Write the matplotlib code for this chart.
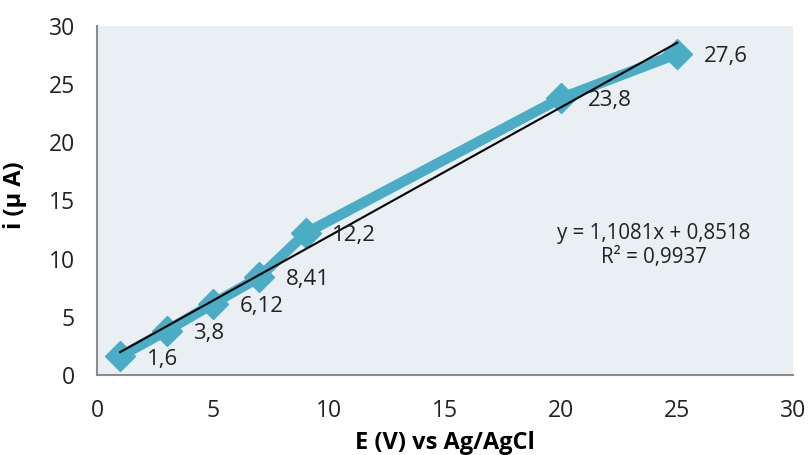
import matplotlib.pyplot as plt

BG_AX   = "#e9eff3"
LINE_C  = "#4bacc6"
SPINE_C = "#8c8c8c"
TEXT_C  = "#222222"

voltage = [1, 3, 5, 7, 9, 20, 25]
current = [1.6, 3.8, 6.12, 8.41, 12.2, 23.8, 27.6]
labels = ["1,6", "3,8", "6,12", "8,41", "12,2", "23,8", "27,6"]

slope, intercept = 1.1081, 0.8518
equation = "y = 1,1081x + 0,8518\nR² = 0,9937"

plt.rcParams.update({
    "font.family": ["Open Sans", "DejaVu Sans"],
    "text.color": TEXT_C,
    "xtick.color": TEXT_C,
    "ytick.color": TEXT_C,
})

fig = plt.figure(figsize=(8.11, 4.55), dpi=100)
ax = fig.add_axes([0.1196, 0.176, 0.8584, 0.767])
ax.set_facecolor(BG_AX)

ax.plot(voltage, current, color=LINE_C, linewidth=7.5, marker="D",
        markersize=15, markeredgecolor=LINE_C, zorder=2)

trend_x = [voltage[0], voltage[-1]]
trend_y = [slope * x + intercept for x in trend_x]
ax.plot(trend_x, trend_y, color="black", linewidth=1.5, zorder=3)

for x, y, lab in zip(voltage, current, labels):
    ax.annotate(lab, (x, y), xytext=(19, -2), textcoords="offset points",
                ha="left", va="center", fontsize=16, zorder=4)

ax.text(24.0, 11.1, equation, ha="center", va="center", fontsize=14.8,
        linespacing=1.2)

ax.set_xlim(0, 30)
ax.set_ylim(0, 30)
ax.set_xticks(range(0, 31, 5))
ax.set_yticks(range(0, 31, 5))
ax.tick_params(length=0, labelsize=16.5)
ax.tick_params(axis="x", pad=17)
ax.tick_params(axis="y", pad=16)

ax.set_xlabel("E (V) vs Ag/AgCl", fontsize=17, fontweight="bold")
ax.set_ylabel("i (µ A)", fontsize=17, fontweight="bold")
ax.xaxis.set_label_coords(0.5, -0.16)
ax.yaxis.set_label_coords(-0.118, 0.515)
ax.yaxis.label.set_va("center")
ax.xaxis.label.set_va("top")

for side in ["top", "right"]:
    ax.spines[side].set_visible(False)
for side in ["left", "bottom"]:
    ax.spines[side].set_color(SPINE_C)
    ax.spines[side].set_linewidth(1.5)

fig.savefig("out.png", dpi=100)
